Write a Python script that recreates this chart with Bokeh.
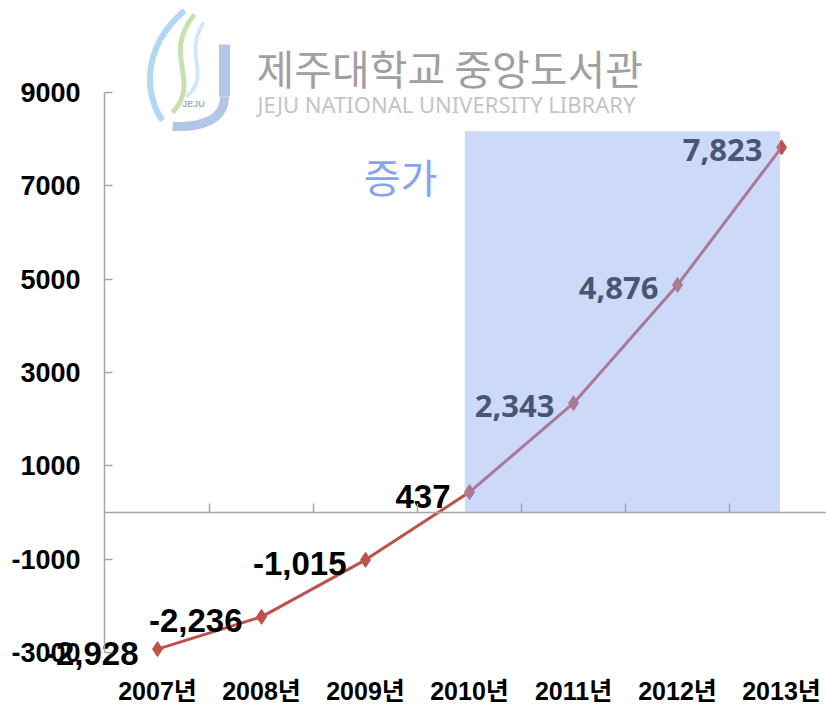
from bokeh.plotting import figure
from bokeh.models import Range1d, LinearAxis, FixedTicker, ColumnDataSource, Label
from bokeh.core.properties import value
from bokeh.embed import file_html
from bokeh.resources import INLINE

# ---------------- data ----------------
years = ["2007년", "2008년", "2009년", "2010년", "2011년", "2012년", "2013년"]
values = [-2928, -2236, -1015, 437, 2343, 4876, 7823]
y_ticks = [-3000, -1000, 1000, 3000, 5000, 7000, 9000]
highlight_from = "2010년"
highlight_to = "2013년"
highlight_top = 8170
highlight_text = "증가"
watermark_ko = "제주대학교 중앙도서관"
watermark_en = "JEJU NATIONAL UNIVERSITY  LIBRARY"

# ---------------- geometry ----------------
W, H = 826, 708
PX_X = 104.0          # pixels per category
PX_Y = 0.046667       # pixels per unit value
y_axis_at = -0.51     # position of the value axis, just left of the first category
x_start = y_axis_at - 104 / PX_X
y_top = 10971
x_range = Range1d(x_start, x_start + W / PX_X)
y_range = Range1d(y_top - H / PX_Y, y_top)


def X(px):  # canvas pixel -> data x (for decorations only)
    return x_start + px / PX_X


def Y(py):  # canvas pixel -> data y (for decorations only)
    return y_top - py / PX_Y


LAB_FONT = "'Liberation Sans', 'Noto Sans CJK KR', sans-serif"
RED = "#C0504D"
GREY = "#A6A6A6"

p = figure(width=W, height=H, x_range=x_range, y_range=y_range,
           output_backend="svg", toolbar_location=None,
           x_axis_location=None, y_axis_location=None,
           min_border_left=0, min_border_top=0,
           min_border_right=0, min_border_bottom=0,
           outline_line_color=None, background_fill_color="white")
p.grid.visible = False

# ---------------- axes ----------------
yaxis = LinearAxis(fixed_location=y_axis_at,
                   ticker=FixedTicker(ticks=y_ticks, minor_ticks=[]),
                   bounds=(min(y_ticks), max(y_ticks)),
                   major_label_overrides={t: str(t) for t in y_ticks},
                   axis_line_color=GREY, axis_line_width=1.5,
                   major_tick_line_color=GREY, major_tick_line_width=1.5,
                   major_tick_in=8, major_tick_out=0,
                   minor_tick_line_color=None,
                   major_label_standoff=24,
                   major_label_text_font=LAB_FONT,
                   major_label_text_font_size="27px",
                   major_label_text_font_style="bold",
                   major_label_text_color="black")
p.add_layout(yaxis, "left")

zaxis = LinearAxis(fixed_location=0,
                   bounds=(y_axis_at, x_range.end),
                   ticker=FixedTicker(ticks=[i + 0.5 for i in range(len(years) - 1)], minor_ticks=[]),
                   axis_line_color=GREY, axis_line_width=1.5,
                   major_tick_line_color=GREY, major_tick_line_width=1.5,
                   major_tick_in=9, major_tick_out=0,
                   minor_tick_line_color=None,
                   major_label_text_color=None)
p.add_layout(zaxis, "below")

xaxis = LinearAxis(fixed_location=min(y_ticks),
                   ticker=FixedTicker(ticks=list(range(len(years))), minor_ticks=[]),
                   major_label_overrides={i: y for i, y in enumerate(years)},
                   axis_line_color=None, major_tick_line_color=None,
                   minor_tick_line_color=None,
                   major_label_standoff=19,
                   major_label_text_font=LAB_FONT,
                   major_label_text_font_size="25px",
                   major_label_text_font_style="bold",
                   major_label_text_color="black")
p.add_layout(xaxis, "below")

# ---------------- watermark ----------------
p.bezier(x0=[X(184)], y0=[Y(10)], x1=[X(162)], y1=[Y(120)],
         cx0=[X(138)], cy0=[Y(50)], cx1=[X(146)], cy1=[Y(98)],
         line_color="#A9D3EF", line_width=6, line_alpha=0.9)
p.bezier(x0=[X(194)], y0=[Y(14)], x1=[X(172)], y1=[Y(112)],
         cx0=[X(160)], cy0=[Y(55)], cx1=[X(202)], cy1=[Y(80)],
         line_color="#C7E0AE", line_width=5)
p.bezier(x0=[X(203)], y0=[Y(22)], x1=[X(186)], y1=[Y(96)],
         cx0=[X(182)], cy0=[Y(55)], cx1=[X(212)], cy1=[Y(74)],
         line_color="#D3E8F6", line_width=4)
p.line(x=[X(224), X(224)], y=[Y(44), Y(96)], line_color="#B3C6E5", line_width=11)
p.bezier(x0=[X(224)], y0=[Y(96)], x1=[X(172)], y1=[Y(126)],
         cx0=[X(224)], cy0=[Y(120)], cx1=[X(200)], cy1=[Y(127)],
         line_color="#B3C6E5", line_width=9)
p.add_layout(Label(x=X(193), y=Y(103), text="JEJU", text_align="center", text_baseline="middle",
                   text_font_size="9px", text_font_style="bold", text_color="#9FAFC8",
                   text_font="Liberation Sans"))
p.add_layout(Label(x=X(256), y=Y(66), text=watermark_ko, text_align="left", text_baseline="middle",
                   text_font="Noto Sans CJK KR", text_font_size="41px", text_color="#A0A0A0"))
p.add_layout(Label(x=X(257), y=Y(103), text=watermark_en, text_align="left", text_baseline="middle",
                   text_font="Noto Sans", text_font_size="22px", text_color="#C4C4C4"))

# ---------------- series ----------------
idx = list(range(len(years)))
p.line(x=idx, y=values, line_color=RED, line_width=3)
p.scatter(x=idx, y=values, marker="diamond", size=15, fill_color=RED, line_color=RED)

hs = years.index(highlight_from)
he = years.index(highlight_to)
labels = ["{:,}".format(v) for v in values]
out_src = ColumnDataSource(dict(x=[i for i in idx if i <= hs], y=[values[i] for i in idx if i <= hs],
                                t=[labels[i] for i in idx if i <= hs]))
in_src = ColumnDataSource(dict(x=[i for i in idx if i > hs], y=[values[i] for i in idx if i > hs],
                               t=[labels[i] for i in idx if i > hs]))
p.text(x="x", y="y", text="t", source=out_src, text_align="right", text_baseline="middle",
       x_offset=-19, y_offset=4, text_font=value(LAB_FONT), text_font_size="33px",
       text_font_style="bold", text_color="black")
p.text(x="x", y="y", text="t", source=in_src, text_align="right", text_baseline="middle",
       x_offset=-19, y_offset=3, text_font=value("Open Sans"), text_font_size="31px",
       text_font_style="bold", text_color="#101010")

# ---------------- highlight ----------------
p.quad(left=[hs - 0.045], right=[he - 0.015], bottom=[0], top=[highlight_top],
       fill_color="#8EAAEF", fill_alpha=0.45, line_color=None)
p.add_layout(Label(x=X(400), y=Y(175), text=highlight_text, text_align="center", text_baseline="middle",
                   text_font="Noto Sans CJK KR", text_font_size="40px", text_color="#87A3F0"))

open("out.html", "w").write(file_html(p, INLINE))
